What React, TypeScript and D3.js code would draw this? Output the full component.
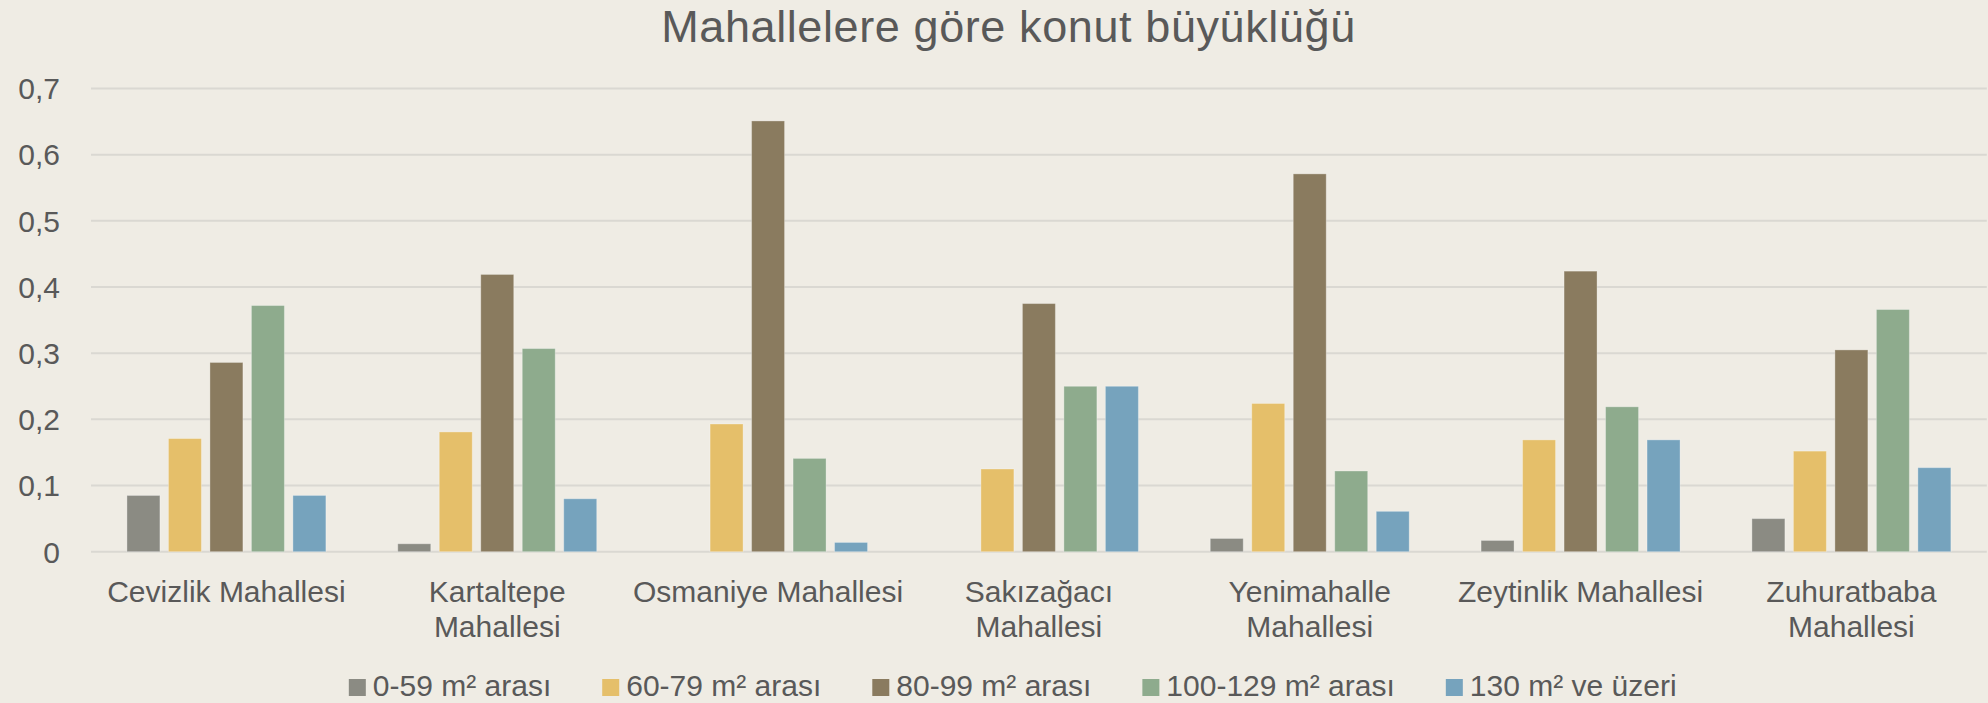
import React, { useEffect, useRef } from "react";
import * as d3 from "d3";

const title = "Mahallelere göre konut büyüklüğü";
const categories = [
  "Cevizlik Mahallesi",
  "Kartaltepe\nMahallesi",
  "Osmaniye Mahallesi",
  "Sakızağacı\nMahallesi",
  "Yenimahalle\nMahallesi",
  "Zeytinlik Mahallesi",
  "Zuhuratbaba\nMahallesi",
];
const seriesNames = ["0-59 m² arası", "60-79 m² arası", "80-99 m² arası", "100-129 m² arası", "130 m² ve üzeri"];
const s0_59 = [0.085, 0.012, 0, 0, 0.02, 0.017, 0.05];
const s60_79 = [0.171, 0.181, 0.193, 0.125, 0.224, 0.169, 0.152];
const s80_99 = [0.286, 0.419, 0.651, 0.375, 0.571, 0.424, 0.305];
const s100_129 = [0.372, 0.307, 0.141, 0.25, 0.122, 0.219, 0.366];
const s130 = [0.085, 0.08, 0.014, 0.25, 0.061, 0.169, 0.127];
const seriesValues = [s0_59, s60_79, s80_99, s100_129, s130];
const seriesColors = ["#8B8B83", "#E5BF6A", "#8A7B5F", "#8EAB8D", "#76A3BD"];
const yTicks = [0, 0.1, 0.2, 0.3, 0.4, 0.5, 0.6, 0.7];

const W = 1988;
const H = 703;
const FONT = "'Liberation Sans', Arial, sans-serif";
const TEXT = "#595959";
const BG = "#EFECE4";

export default function App() {
  const ref = useRef<SVGSVGElement | null>(null);

  useEffect(() => {
    const svg = d3.select(ref.current);
    svg.selectAll("*").remove();

    const left = 91, right = 1986.8, top = 88.5, bottom = 551.7;
    const x0 = d3.scaleBand<string>().domain(categories).range([left, right]).paddingInner(0).paddingOuter(0);
    const x1 = d3.scaleBand<string>().domain(seriesNames).range([0, x0.bandwidth()]).paddingInner(0.205).paddingOuter(0.866);
    const y = d3.scaleLinear().domain([0, 0.7]).range([bottom, top]);
    const loc = d3.formatLocale({ decimal: ",", thousands: ".", grouping: [3], currency: ["", ""] });
    const fmt = (v: number) => (v === 0 ? "0" : loc.format(".1f")(v));

    svg.append("rect").attr("width", W).attr("height", H).attr("fill", BG);

    svg.append("text").attr("x", 1008.5).attr("y", 42).attr("text-anchor", "middle")
      .attr("font-family", FONT).attr("font-size", 45).attr("letter-spacing", 0.6).attr("fill", TEXT).text(title);

    // grid
    const g = svg.append("g");
    g.selectAll("line.grid").data(yTicks).join("line")
      .attr("x1", left).attr("x2", right)
      .attr("y1", (d) => y(d)).attr("y2", (d) => y(d))
      .attr("stroke", "#DAD8D2").attr("stroke-width", 2);
    g.selectAll("text.tick").data(yTicks).join("text")
      .attr("x", 60).attr("y", (d) => y(d)).attr("dy", "0.36em").attr("text-anchor", "end")
      .attr("font-family", FONT).attr("font-size", 30).attr("fill", TEXT).text((d) => fmt(d));

    // bars
    seriesValues.forEach((vals, si) => {
      svg.append("g").selectAll("rect").data(vals).join("rect")
        .attr("x", (_, i) => (x0(categories[i]) as number) + (x1(seriesNames[si]) as number))
        .attr("width", x1.bandwidth())
        .attr("y", (d) => y(d))
        .attr("height", (d) => y(0) - y(d))
        .attr("fill", seriesColors[si])
        .attr("stroke", (d) => (d > 0 ? "rgba(255,255,255,0.3)" : "none"))
        .attr("stroke-width", 1);
    });

    // category labels
    categories.forEach((c) => {
      const cx = (x0(c) as number) + x0.bandwidth() / 2;
      const t = svg.append("text").attr("text-anchor", "middle")
        .attr("font-family", FONT).attr("font-size", 30).attr("fill", TEXT);
      c.split("\n").forEach((line, li) => {
        t.append("tspan").attr("x", cx).attr("y", 601.7 + li * 35).text(line);
      });
    });

    // legend
    const lg = svg.append("g");
    const sw = 17, gapText = 7, gapItem = 51;
    let cursor = 0;
    seriesNames.forEach((n, i) => {
      const it = lg.append("g");
      it.append("rect").attr("x", cursor).attr("y", 679).attr("width", sw).attr("height", sw).attr("fill", seriesColors[i]);
      const t = it.append("text").attr("x", cursor + sw + gapText).attr("y", 695.7)
        .attr("font-family", FONT).attr("font-size", 30).attr("fill", TEXT).text(n);
      const w = (t.node() as SVGTextElement).getComputedTextLength();
      cursor += sw + gapText + w + gapItem;
    });
    const total = cursor - gapItem;
    lg.attr("transform", `translate(${1012.7 - total / 2},0)`);
  }, []);

  return (
    <svg ref={ref} width={W} height={H} style={{ position: "absolute", left: 0, top: 0, display: "block" }} />
  );
}
